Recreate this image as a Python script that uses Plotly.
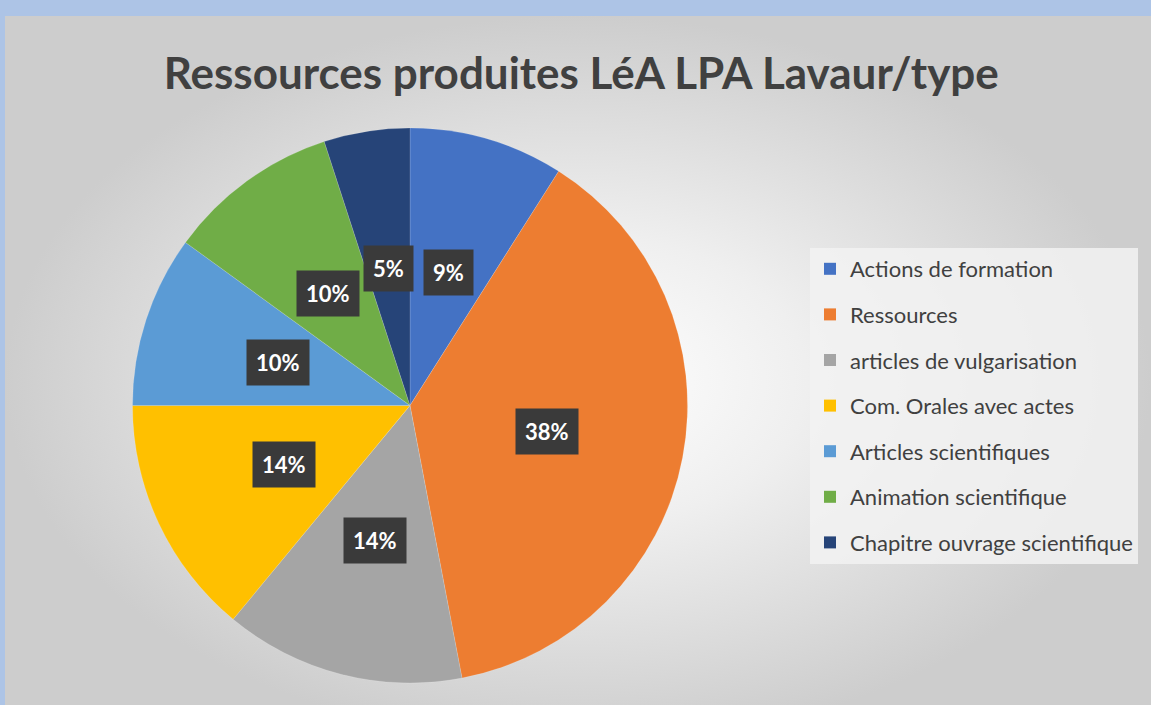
import math
import plotly.graph_objects as go

categories = ["Actions de formation", "Ressources", "articles de vulgarisation",
              "Com. Orales avec actes", "Articles scientifiques",
              "Animation scientifique", "Chapitre ouvrage scientifique"]
values = [9, 38, 14, 14, 10, 10, 5]
colors = ["#4472C4", "#ED7D31", "#A5A5A5", "#FFC000", "#5B9BD5", "#70AD47", "#264478"]
title_text = "Ressources produites LéA LPA Lavaur/type"

W, H = 1151, 705
# pie placement (pixels)
px0, px1 = 132, 688
py0, py1 = 128, 683
cx, cy = (px0 + px1) / 2, (py0 + py1) / 2
r = (px1 - px0) / 2

fig = go.Figure()

# background panel with radial gradient
fig.add_trace(go.Scatter(
    x=[5, W, W, 5, 5], y=[-40, -40, H - 16, H - 16, -40],
    mode="lines", line=dict(width=0), fill="toself",
    fillgradient=dict(type="radial",
                      colorscale=[[0, "#ffffff"], [0.4, "#efefef"], [1, "#cdcdcd"]]),
    hoverinfo="skip", showlegend=False,
))

fig.add_trace(go.Pie(
    labels=categories, values=values, sort=False, direction="clockwise", rotation=0,
    marker=dict(colors=colors, line=dict(color="rgba(255,255,255,0.3)", width=0.5)),
    textinfo="none", showlegend=False, hoverinfo="label+percent",
    domain=dict(x=[px0 / W, px1 / W], y=[1 - py1 / H, 1 - py0 / H]),
))

# legend entries
for c, col in zip(categories, colors):
    fig.add_trace(go.Scatter(
        x=[None], y=[None], mode="markers", name=c, legendgroup=c,
        marker=dict(symbol="square", size=12, color=col),
    ))

# data labels
total = sum(values)
cum = 0
annotations = []
for v in values:
    mid = (cum + v / 2) / total
    cum += v
    th = 2 * math.pi * mid
    x = cx + 0.5 * r * math.sin(th)
    y = cy - 0.5 * r * math.cos(th)
    annotations.append(dict(
        x=x / W, y=1 - y / H, xref="paper", yref="paper",
        xanchor="center", yanchor="middle",
        text=f"<b>{round(v / total * 100)}%</b>", showarrow=False,
        font=dict(family="Lato", size=22, color="white"),
        bgcolor="#3a3a3a", borderpad=9,
    ))

fig.update_layout(
    width=W, height=H,
    margin=dict(l=0, r=0, t=0, b=0),
    paper_bgcolor="#adc4e6", plot_bgcolor="rgba(0,0,0,0)",
    xaxis=dict(range=[0, W], visible=False, fixedrange=True),
    yaxis=dict(range=[0, H], visible=False, fixedrange=True),
    title=dict(text=f"<b>{title_text}</b>", x=0.505, xanchor="center", y=1 - 74 / H, yanchor="middle",
               font=dict(family="Lato", size=44, color="#404040")),
    legend=dict(x=810 / W, y=1 - 248 / H, xanchor="left", yanchor="top",
                bgcolor="rgba(242,242,242,0.85)", font=dict(family="Lato", size=22, color="#404040"),
                tracegroupgap=14, itemsizing="constant", itemwidth=30),
    annotations=annotations,
    showlegend=True,
)

fig.write_html("out.html", config={"displayModeBar": False},
               post_script="document.body.style.margin='0';document.body.style.padding='0';")
